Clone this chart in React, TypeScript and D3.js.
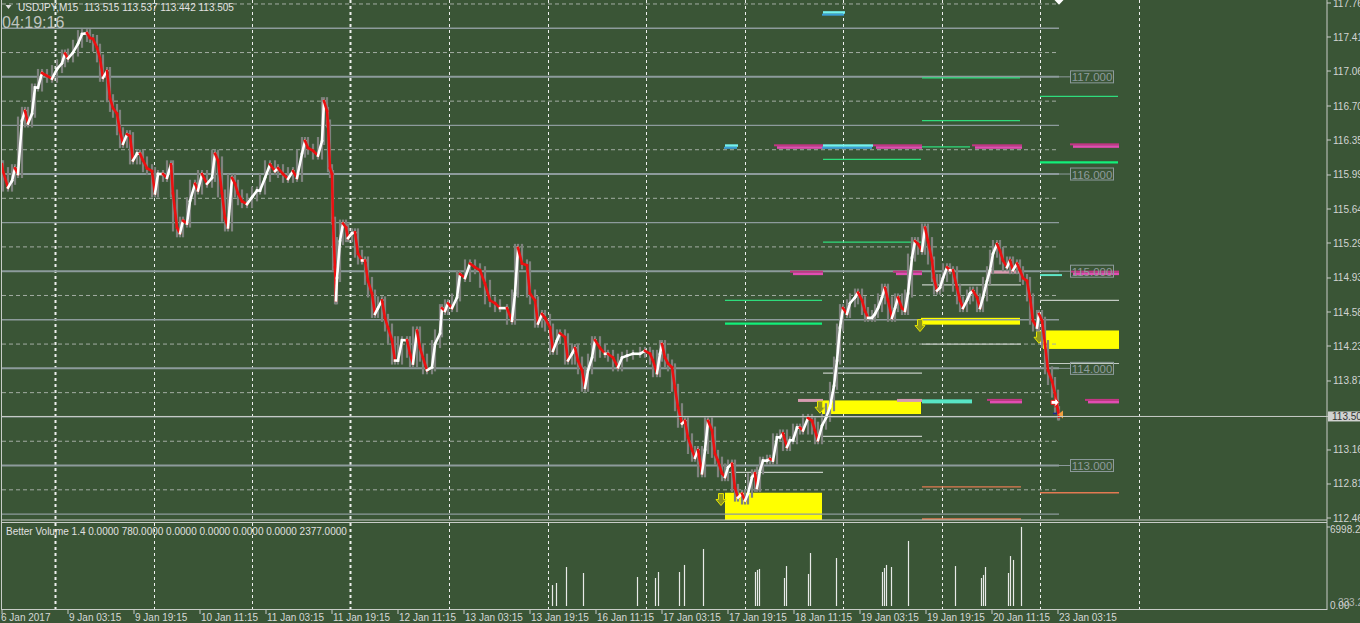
import React from "react";
import * as d3 from "d3";

// ---------- DATA ----------
const symbolHeader = "USDJPY,M15  113.515 113.537 113.442 113.505";
const clockText = "04:19:16";
const volumeHeader = "Better Volume 1.4 0.0000 780.0000 0.0000 0.0000 0.0000 0.0000 2377.0000";

// price path: bar time index (M15 bars from chart start) and price
const pathT = [0,1,6,10,13,16,20,23,26,30,33,36,40,45,50,55,60,63,66,71,76,80,85,88,91,95,98,101,105,108,111,115,118,121,125,128,131,135,138,141,145,150,153,156,161,165,169,171,175,178,181,185,188,193,196,200,205,210,213,216,220,223,226,230,233,236,240,245,250,255,258,263,268,273,276,281,286,291,295,300,303,306,311,316,320,322,325,326,328,330,331,333,334,335,338,341,344,346,350,353,356,360,363,366,370,373,376,380,383,386,390,393,396,400,405,408,411,415,418,421,425,430,433,438,440,443,446,450,455,458,463,468,473,478,483,488,493,498,505,510,513,516,520,525,528,533,536,540,543,548,551,555,558,563,566,570,573,576,580,583,586,590,593,598,603,606,611,616,620,625,631,638,643,648,651,655,658,660,663,666,670,673,676,680,683,686,690,693,696,700,703,706,710,713,716,720,723,726,730,733,736,740,743,746,750,753,755,758,761,765,768,771,775,778,781,785,788,791,795,798,801,806,810,813,816,820,824,828,832,835,838,841,845,848,853,856,860,863,866,870,873,876,880,883,886,890,893,896,900,903,906,910,913,916,920,923,926,930,932,935,938,941,945,948,951,955,958,961,965,968,971,975,978,981,985,988,991,995,998,1001,1005,1008,1011,1015,1018,1021,1025,1028,1031,1035,1037,1040,1043,1046,1050,1053,1056,1057];
const pathP = [116.10,116.03,115.86,115.93,116.06,116.00,116.55,116.65,116.52,116.62,116.89,116.89,117.04,117.01,116.98,117.08,117.14,117.24,117.19,117.25,117.34,117.44,117.45,117.40,117.39,117.30,117.19,116.99,117.06,116.78,116.68,116.62,116.44,116.31,116.41,116.39,116.14,116.21,116.21,116.14,116.06,116.03,115.80,116.00,116.00,115.96,116.10,115.80,115.45,115.39,115.52,115.49,115.72,115.90,115.83,116.00,115.90,115.96,116.21,116.14,115.80,115.55,115.45,115.96,115.90,115.80,115.72,115.69,115.76,115.83,115.83,115.96,116.10,116.03,116.06,116.00,115.95,116.03,115.96,116.21,116.34,116.27,116.24,116.19,116.34,116.75,116.65,116.52,116.06,116.00,115.52,115.04,114.70,114.93,115.31,115.49,115.45,115.34,115.39,115.40,115.18,115.11,115.11,114.90,114.77,114.56,114.62,114.70,114.52,114.42,114.29,114.08,114.08,114.29,114.29,114.15,114.05,114.39,114.21,114.11,113.98,114.01,114.25,114.36,114.62,114.59,114.67,114.62,114.73,114.97,114.93,115.08,115.04,115.01,114.87,114.70,114.67,114.62,114.62,114.49,114.77,115.24,115.08,115.06,114.77,114.70,114.46,114.56,114.52,114.42,114.18,114.29,114.36,114.32,114.08,114.15,114.21,114.08,113.98,113.80,113.98,114.11,114.29,114.21,114.15,114.15,114.11,114.01,114.11,114.13,114.15,114.15,114.18,114.15,114.08,113.95,114.15,114.25,114.11,114.05,114.01,113.80,113.60,113.43,113.46,113.29,113.16,113.08,113.16,112.92,113.16,113.46,113.36,113.12,113.05,112.92,112.88,112.98,113.02,112.77,112.67,112.71,112.64,112.71,112.88,112.92,112.77,112.95,113.05,113.05,113.07,113.05,113.29,113.29,113.33,113.19,113.26,113.26,113.39,113.39,113.36,113.49,113.46,113.36,113.26,113.41,113.49,113.60,113.82,114.08,114.42,114.62,114.56,114.67,114.73,114.78,114.70,114.59,114.52,114.52,114.56,114.62,114.73,114.83,114.70,114.52,114.62,114.73,114.62,114.59,114.77,115.14,115.31,115.28,115.21,115.45,115.31,115.11,114.93,114.80,114.83,114.93,115.04,115.01,115.01,114.83,114.70,114.62,114.70,114.77,114.80,114.73,114.62,114.73,114.90,115.01,115.18,115.28,115.21,115.11,115.04,115.11,115.01,115.08,115.01,114.93,114.90,114.73,114.49,114.42,114.56,114.49,114.25,113.98,113.87,113.74,113.57,113.505];

const bidPrice = 113.505;
const bidLabel = "113.50";
const priceTicks = [117.76,117.41,117.06,116.70,116.35,115.99,115.64,115.29,114.93,114.58,114.23,113.87,113.16,112.81,112.46];
const roundLevels = [117.5,117,116.5,116,115.5,115,114.5,114,113.5,113,112.5];
const labeledLevels = [117,116,115,114,113];
const quarterLevels = [117.75,117.25,116.75,116.25,115.75,115.25,114.75,114.25,113.75,113.25,112.75];

const timeLabels = ["6 Jan 2017","9 Jan 03:15","9 Jan 19:15","10 Jan 11:15","11 Jan 03:15","11 Jan 19:15","12 Jan 11:15","13 Jan 03:15","13 Jan 19:15","16 Jan 11:15","17 Jan 03:15","17 Jan 19:15","18 Jan 11:15","19 Jan 03:15","19 Jan 19:15","20 Jan 11:15","23 Jan 03:15"];
const timeLabelT = [0,66,132,198,264,330,396,462,528,594,660,726,792,858,924,990,1056];
const daySepT = [53,151.5,250,348.5,447,545.5,644,742.5,841,939.5,1038,1136.5];
const weekSepT = [53,348.5];

// supply / demand zones [t0, t1, top, bottom]
const zones = [[723,820,112.72,112.40],[820,919,113.67,113.53],[919,1018,114.52,114.45],[1041,1117,114.39,114.20]];
// zone arrow markers [t, price]
const zoneArrows = [[719,112.65],[818,113.60],[918,114.44],[1037,114.32]];

// indicator levels [t0, t1, price]
const greenLevels = [[920,1018,116.99],[920,1018,116.55],[1038,1116,116.80],[920,968,116.28],[821,919,116.15],[821,919,115.30],[723,820,114.70]];
const greenStrong = [[1038,1116,116.12],[723,820,114.46]];
const tealLevels = [[1038,1060,114.96]];
const greyLevels = [[1038,1117,114.70],[920,1019,114.86],[920,1019,114.25],[821,920,113.95],[821,920,113.30],[723,821,112.93],[1038,1117,114.05]];
const orangeLevels = [[920,1019,112.78],[1038,1117,112.72],[920,1019,112.45]];
const pinkBars = [[772,821,116.28],[871,920,116.28],[970,1020,116.28],[1068,1117,116.29],[788,821,114.98],[891,920,114.98],[1068,1117,114.98],[985,1020,113.66],[1083,1117,113.66]];
const palePinkBars = [[796,821,113.67],[895,920,113.67],[988,1018,114.99]];
const cyanBars = [[723,736,116.28],[821,871,116.28],[821,843,117.65]];
const aquaBars = [[920,970,113.66]];

// volume histogram [t] and values
const volT = [550,554,564,581,635,653,656,677,682,701,753,755,757,782,784,806,808,834,880,882,884,889,906,953,979,981,983,1006,1008,1011,1019];
const volV = [1930,2120,3590,3040,2670,2580,3130,3130,3780,5250,3130,3320,3410,2580,3680,2950,4880,4420,3130,3500,3780,3590,5990,3680,2580,2860,3590,3040,4600,4240,7280];
const volMax = 6998.2;
const volTopLabel = "6998.2";
const volBottomLabels = ["0.00","333.25"];

// ---------- CHART ----------
const BG = "#3a5536";
const FONT = "'Liberation Sans', Arial, sans-serif";

export default function App() {
  const x = d3.scaleLinear().domain([0, 1325]).range([2, 1327]);
  const y = d3.scaleLinear().domain([112.46, 117.76]).range([518, 3]);
  const v = d3.scaleLinear().domain([0, volMax]).range([606, 530]);
  const lastT = pathT[pathT.length - 1];
  const xEnd = x(lastT);
  const pts: [number, number][] = pathT.map((t, i) => [x(t), y(pathP[i])]);
  const n = pts.length;

  const seg = (arr: number[][], color: string, w: number, key: string) =>
    arr.map((d, i) => (
      <line key={key + i} x1={x(d[0])} x2={x(d[1])} y1={y(d[2])} y2={y(d[2])} stroke={color} strokeWidth={w} />
    ));

  // wick extent for each sample: range spanned with its neighbours
  const wicks = pts.map((p, i) => {
    const ys = [p[1], pts[Math.max(0, i - 1)][1], pts[Math.min(n - 1, i + 1)][1]];
    return [p[0], Math.min(...ys) - 4, Math.max(...ys) + 4];
  });

  return (
    <svg width={1360} height={623} style={{ position: "fixed", left: 0, top: 0, background: BG }} fontFamily={FONT}>
      <rect x={0} y={0} width={1360} height={623} fill={BG} />
      <defs>
        <clipPath id="main"><rect x={2} y={0} width={1325} height={520} /></clipPath>
        <clipPath id="vol"><rect x={2} y={523} width={1325} height={87} /></clipPath>
      </defs>

      {daySepT.map((t, i) => (
        <g key={"ds" + i}>
          <line x1={Math.round(x(t)) + 0.5} x2={Math.round(x(t)) + 0.5} y1={0} y2={520} stroke="#eef0ee" strokeWidth={weekSepT.includes(t) ? 2 : 1} strokeDasharray="3,3" />
          <line x1={Math.round(x(t)) + 0.5} x2={Math.round(x(t)) + 0.5} y1={523} y2={610} stroke="#eef0ee" strokeWidth={weekSepT.includes(t) ? 2 : 1} strokeDasharray="3,3" />
        </g>
      ))}

      <g clipPath="url(#main)">
        {zones.map((z, i) => (
          <rect key={"z" + i} x={x(z[0])} y={y(z[2])} width={x(z[1]) - x(z[0])} height={y(z[3]) - y(z[2])} fill="#ffff00" />
        ))}
        {quarterLevels.map((p, i) => (
          <line key={"q" + i} x1={2} x2={xEnd} y1={y(p)} y2={y(p)} stroke="#a3ada3" strokeWidth={1} strokeDasharray="4,3" />
        ))}
        {roundLevels.map((p, i) => {
          const lab = labeledLevels.includes(p);
          return (
            <g key={"r" + i}>
              <line x1={2} x2={xEnd} y1={y(p)} y2={y(p)} stroke="#8d9b9c" strokeWidth={lab ? 2 : 1.3} />
              {lab && <line x1={xEnd} x2={x(1068)} y1={y(p)} y2={y(p)} stroke="#8d9b9c" strokeWidth={1} />}
            </g>
          );
        })}
        {seg(greenLevels, "#2fdc7c", 1.3, "g")}
        {seg(greenStrong, "#12f07a", 2.2, "gs")}
        {seg(tealLevels, "#5fe6c8", 2, "tl")}
        {seg(greyLevels, "#c3cbc3", 1.2, "gr")}
        {seg(orangeLevels, "#e27a52", 1.4, "o")}
        {pinkBars.map((d, i) => (
          <g key={"pb" + i}>
            <rect x={x(d[0])} y={y(d[2]) - 2.5} width={x(d[1]) - x(d[0])} height={2} fill="#c23684" />
            <rect x={x(d[0]) + 3} y={y(d[2]) - 0.5} width={x(d[1]) - x(d[0]) - 3} height={2.5} fill="#e24db2" />
          </g>
        ))}
        {palePinkBars.map((d, i) => (
          <rect key={"pp" + i} x={x(d[0])} y={y(d[2]) - 1.5} width={x(d[1]) - x(d[0])} height={3} fill="#d79bb0" />
        ))}
        {cyanBars.map((d, i) => (
          <g key={"cb" + i}>
            <rect x={x(d[0])} y={y(d[2]) - 2.5} width={x(d[1]) - x(d[0])} height={2.5} fill="#74f2f0" />
            <rect x={x(d[0]) - 1} y={y(d[2])} width={x(d[1]) - x(d[0])} height={2} fill="#3a9fd6" />
          </g>
        ))}
        {aquaBars.map((d, i) => (
          <rect key={"ab" + i} x={x(d[0])} y={y(d[2]) - 2} width={x(d[1]) - x(d[0])} height={4} fill="#58e6c6" />
        ))}
        {zoneArrows.map((a, i) => {
          const cx = x(a[0]), cy = y(a[1]);
          const d = `M${cx - 2.5},${cy - 6} L${cx + 2.5},${cy - 6} L${cx + 2.5},${cy} L${cx + 5},${cy} L${cx},${cy + 6} L${cx - 5},${cy} L${cx - 2.5},${cy} Z`;
          return <path key={"za" + i} d={d} fill="#8c9420" stroke="#e6e600" strokeWidth={1} />;
        })}

        {/* gray wicks */}
        {wicks.map((w, i) => (
          <line key={"w" + i} x1={w[0]} x2={w[0]} y1={w[1]} y2={w[2]} stroke="#7e827e" strokeWidth={2.2} />
        ))}
        {/* bodies */}
        {pts.slice(1).map((p, i) => {
          const up = pathP[i + 1] >= pathP[i];
          return (
            <line key={"p" + i} x1={pts[i][0]} y1={pts[i][1]} x2={p[0]} y2={p[1]} stroke={up ? "#ffffff" : "#ec1010"} strokeWidth={2.6} strokeLinecap="square" />
          );
        })}

        <path d={`M${xEnd - 8},${y(113.65) - 2} L${xEnd - 4},${y(113.65) - 2} L${xEnd - 4},${y(113.65) - 5} L${xEnd},${y(113.65)} L${xEnd - 4},${y(113.65) + 5} L${xEnd - 4},${y(113.65) + 2} L${xEnd - 8},${y(113.65) + 2} Z`} fill="#ffffff" stroke="#e81414" strokeWidth={1} />
        <path d={`M${xEnd + 4},${y(bidPrice) - 6} L${xEnd + 4},${y(bidPrice) + 2} L${xEnd - 1},${y(bidPrice) - 2} Z`} fill="#f0a040" />
        <line x1={xEnd - 6} x2={xEnd - 2} y1={y(bidPrice) - 3} y2={y(bidPrice) - 3} stroke="#1a2a90" strokeWidth={1.5} />
      </g>

      {labeledLevels.map((p, i) => (
        <g key={"ll" + i}>
          <rect x={1070.5} y={y(p) - 6} width={43} height={12} fill="none" stroke="#8d9b9c" strokeWidth={1} />
          <text x={1092} y={y(p) + 4.5} fontSize={11.5} fill="#8d9b9c" textAnchor="middle">{p.toFixed(3)}</text>
        </g>
      ))}

      <path d={`M${xEnd - 4.5},0 L${xEnd},4.7 L${xEnd + 4.5},0 Z`} fill="#ffffff" />

      <line x1={2} x2={1360} y1={y(bidPrice)} y2={y(bidPrice)} stroke="#c9cdc9" strokeWidth={1} />

      <line x1={2} x2={1327} y1={520} y2={520} stroke="#c8ccc8" strokeWidth={1} />
      <line x1={2} x2={1327} y1={522.5} y2={522.5} stroke="#c8ccc8" strokeWidth={1} />
      <line x1={2} x2={1327} y1={609.5} y2={609.5} stroke="#c8ccc8" strokeWidth={1} />
      <line x1={1.5} x2={1.5} y1={0} y2={610} stroke="#c8ccc8" strokeWidth={1} />
      <line x1={1327} x2={1327} y1={0} y2={610} stroke="#c8ccc8" strokeWidth={1} />

      <g clipPath="url(#vol)">
        {volT.map((t, i) => (
          <line key={"v" + i} x1={Math.round(x(t)) + 0.5} x2={Math.round(x(t)) + 0.5} y1={v(0)} y2={v(volV[i])} stroke="#e8eae8" strokeWidth={1.2} />
        ))}
      </g>
      <text x={6} y={535} fontSize={10} fill="#e0e0e0">{volumeHeader}</text>

      {priceTicks.map((p, i) => (
        <g key={"pt" + i}>
          <line x1={1327} x2={1331} y1={y(p)} y2={y(p)} stroke="#c8ccc8" />
          <text x={1333} y={y(p) + 3.5} fontSize={10} fill="#d2d4d2">{p.toFixed(2)}</text>
        </g>
      ))}
      <rect x={1328} y={y(bidPrice) - 5} width={32} height={10} fill="#d0d2d0" />
      <text x={1332} y={y(bidPrice) + 3.5} fontSize={10} fill="#333">{bidLabel}</text>
      <line x1={1327} x2={1330} y1={v(volMax) - 3} y2={v(volMax) - 3} stroke="#c8ccc8" />
      <text x={1330} y={533} fontSize={10} fill="#d2d4d2">{volTopLabel}</text>
      <text x={1330} y={609} fontSize={10} fill="#d2d4d2">{volBottomLabels[0]}</text>
      <text x={1338} y={606} fontSize={10} fill="#c8c8c8" opacity={0.85}>{volBottomLabels[1]}</text>

      {timeLabelT.map((t, i) => (
        <g key={"tl" + i}>
          <line x1={x(t)} x2={x(t)} y1={610} y2={614} stroke="#c8ccc8" />
          <text x={x(t) + (i === 0 ? -1 : 1)} y={621} fontSize={10} fill="#d6d8d6">{timeLabels[i]}</text>
        </g>
      ))}

      <path d="M5.5,5 L11.5,5 L8.5,9 Z" fill="#e0e0e0" />
      <text x={18} y={11} fontSize={10} fill="#e2e2e2" style={{ whiteSpace: "pre" }}>{symbolHeader}</text>
      <text x={2} y={27.5} fontSize={16} fill="#bfc3bf">{clockText}</text>
    </svg>
  );
}
